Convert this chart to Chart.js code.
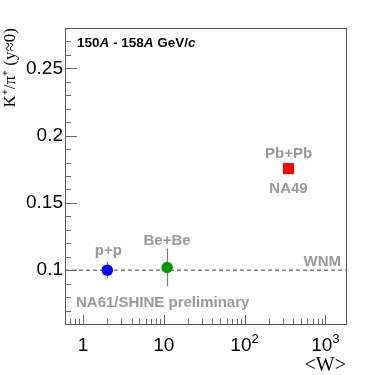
<!DOCTYPE html>
<html>
<head>
<meta charset="utf-8">
<script src="https://cdn.jsdelivr.net/npm/chart.js@4.4.1/dist/chart.umd.min.js"></script>
<style>
  html, body { margin: 0; padding: 0; background: #fff; }
  #wrap { width: 374px; height: 375px; }
</style>
</head>
<body>
<div id="wrap"><canvas id="ratioChart" width="374" height="375"></canvas></div>
<script>
// data
const systems = ["p+p", "Be+Be", "Pb+Pb"];
const wValues = [2, 11, 350];
const ratioValues = [0.1, 0.102, 0.1755];
const ratioErrors = [0.006, 0.014, 0];
const pointColors = ["#0000ff", "#009900", "#ff0000"];
const pointShapes = ["circle", "circle", "rect"];
const wnmLevel = 0.1;
const xTicks = [1, 10, 100, 1000];
const xTickBase = ["1", "10", "10", "10"];
const xTickExp = ["", "", "2", "3"];
const yTicks = [0.1, 0.15, 0.2, 0.25];
const xRange = [0.6, 1800];
const yRange = [0.06, 0.28];

const grey = "#999999";
const sans = "'Liberation Sans', Arial, sans-serif";
const serif = "'Liberation Serif', 'Times New Roman', serif";

// error bars, frame, inside ticks and text labels
const decorPlugin = {
  id: "decor",
  beforeDatasetsDraw(chart) {
    const ctx = chart.ctx;
    const xs = chart.scales.x, ys = chart.scales.y;
    ctx.save();
    ctx.strokeStyle = "#777";
    ctx.lineWidth = 1.2;
    wValues.forEach((w, i) => {
      if (!ratioErrors[i]) return;
      const px = Math.round(xs.getPixelForValue(w)) + 0.5;
      ctx.beginPath();
      ctx.moveTo(px, ys.getPixelForValue(ratioValues[i] - ratioErrors[i]));
      ctx.lineTo(px, ys.getPixelForValue(ratioValues[i] + ratioErrors[i]));
      ctx.stroke();
    });
    ctx.restore();
  },
  afterDraw(chart) {
    const ctx = chart.ctx;
    const a = chart.chartArea;
    const xs = chart.scales.x, ys = chart.scales.y;
    ctx.save();

    // frame
    ctx.strokeStyle = "#555";
    ctx.lineWidth = 1;
    ctx.strokeRect(Math.round(a.left) + 0.5, Math.round(a.top) + 0.5,
      Math.round(a.right - a.left), Math.round(a.bottom - a.top));

    // y ticks inside, on the left edge
    ctx.strokeStyle = "#666";
    for (let k = 6; k <= 28; k++) {
      const v = k / 100;
      const py = Math.round(ys.getPixelForValue(v)) + 0.5;
      const major = k % 5 === 0;
      ctx.beginPath();
      ctx.moveTo(a.left, py);
      ctx.lineTo(a.left + (major ? 12 : 6), py);
      ctx.stroke();
    }
    // x ticks inside, on the bottom edge
    for (let d = -1; d <= 3; d++) {
      for (let m = 1; m <= 9; m++) {
        const v = m * Math.pow(10, d);
        if (v < xRange[0] || v > xRange[1]) continue;
        const px = Math.round(xs.getPixelForValue(v)) + 0.5;
        ctx.beginPath();
        ctx.moveTo(px, a.bottom);
        ctx.lineTo(px, a.bottom - (m === 1 ? 9 : 5));
        ctx.stroke();
      }
    }

    // x tick labels with real superscripts
    ctx.fillStyle = "#000";
    ctx.textBaseline = "alphabetic";
    xTicks.forEach((v, i) => {
      const px = xs.getPixelForValue(v);
      ctx.font = "19px " + sans;
      const wb = ctx.measureText(xTickBase[i]).width;
      ctx.font = "13px " + sans;
      const we = xTickExp[i] ? ctx.measureText(xTickExp[i]).width : 0;
      const left = px - (wb + we) / 2;
      ctx.font = "19px " + sans;
      ctx.textAlign = "left";
      ctx.fillText(xTickBase[i], left, 351);
      if (xTickExp[i]) {
        ctx.font = "13px " + sans;
        ctx.fillText(xTickExp[i], left + wb, 343);
      }
    });

    // header text with italic parts
    const parts = [["150", false], ["A", true], [" - 158", false], ["A", true], [" GeV/", false], ["c", true]];
    let tx = 77;
    parts.forEach(([s, it]) => {
      ctx.font = (it ? "italic " : "") + "bold 13.5px " + sans;
      ctx.fillText(s, tx, 47);
      tx += ctx.measureText(s).width;
    });

    // grey labels
    ctx.fillStyle = grey;
    ctx.font = "bold 15px " + sans;
    ctx.textAlign = "center";
    ctx.fillText(systems[0], xs.getPixelForValue(wValues[0]) + 1, 255);
    ctx.fillText(systems[1], xs.getPixelForValue(wValues[1]), 245);
    ctx.fillText(systems[2], xs.getPixelForValue(wValues[2]), 158);
    ctx.fillText("NA49", xs.getPixelForValue(wValues[2]), 193);
    ctx.textAlign = "right";
    ctx.fillText("WNM", a.right - 5, ys.getPixelForValue(wnmLevel) - 4);
    ctx.textAlign = "left";
    ctx.fillText("NA61/SHINE preliminary", 76, 307);

    // axis titles
    ctx.fillStyle = "#000";
    ctx.font = "20px " + serif;
    ctx.textAlign = "right";
    ctx.fillText("<W>", a.right, 371);

    ctx.translate(11, a.top);
    ctx.rotate(-Math.PI / 2);
    ctx.font = "17px " + serif;
    ctx.textAlign = "right";
    ctx.textBaseline = "middle";
    ctx.fillText("K\u207a/\u03c0\u207a (y\u22480)", 0, 0);
    ctx.restore();
  }
};

const pointSets = systems.map((name, i) => ({
  label: name,
  data: [{ x: wValues[i], y: ratioValues[i] }],
  pointStyle: pointShapes[i],
  pointRadius: pointShapes[i] === "rect" ? 7.8 : 5.8,
  backgroundColor: pointColors[i],
  borderColor: pointColors[i],
  borderWidth: 0
}));

const wnmLine = {
  label: "WNM",
  type: "line",
  data: [{ x: xRange[0], y: wnmLevel }, { x: xRange[1], y: wnmLevel }],
  borderColor: "#808080",
  borderWidth: 1.6,
  borderDash: [4, 3],
  pointRadius: 0,
  fill: false
};

const ctx = document.getElementById("ratioChart").getContext("2d");
new Chart(ctx, {
  type: "scatter",
  data: { datasets: [...pointSets, wnmLine] },
  options: {
    responsive: false,
    animation: false,
    devicePixelRatio: 1,
    layout: { padding: { left: 0, top: 28, right: 28, bottom: 0 } },
    plugins: { legend: { display: false }, tooltip: { enabled: false } },
    scales: {
      x: {
        type: "logarithmic",
        min: xRange[0],
        max: xRange[1],
        grid: { display: false, drawTicks: false },
        border: { display: false },
        afterBuildTicks: (scale) => { scale.ticks = xTicks.map((v) => ({ value: v })); },
        afterFit: (scale) => { scale.height = 51; },
        ticks: { display: false }
      },
      y: {
        min: yRange[0],
        max: yRange[1],
        grid: { display: false, drawTicks: false },
        border: { display: false },
        afterBuildTicks: (scale) => { scale.ticks = yTicks.map((v) => ({ value: v })); },
        afterFit: (scale) => { scale.width = 65; },
        ticks: {
          padding: 2,
          color: "#000",
          font: { family: sans, size: 19 },
          callback: (v) => String(v)
        }
      }
    }
  },
  plugins: [decorPlugin]
});
</script>
</body>
</html>
